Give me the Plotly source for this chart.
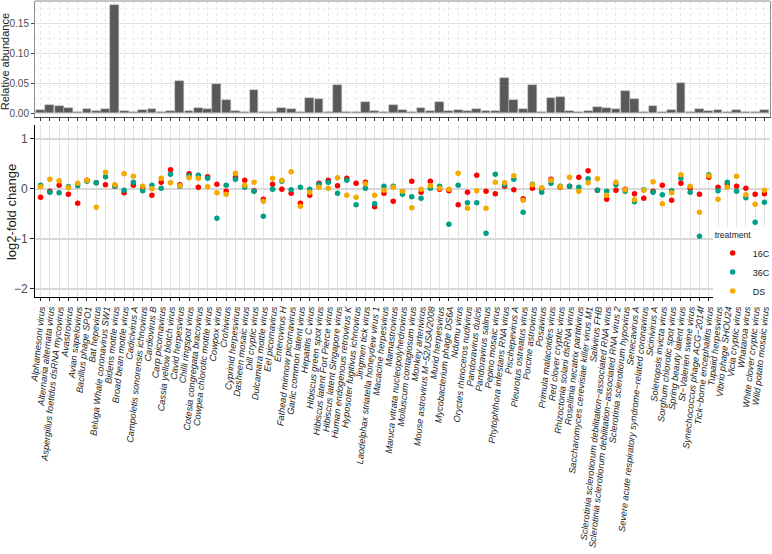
import plotly.graph_objects as go

viruses = [
    "Alphamesoni virus", "Alternaria alternata virus", "Aspergillus foetidus dsRNA mycovirus",
    "Avastrovirus", "Avian sapelovirus", "Bacillus phage SPO1", "Bat hepevirus",
    "Beluga Whale coronavirus SW1", "Bidens mottle virus", "Broad bean mottle virus",
    "Cadicivirus A", "Campoletis sonorensis ichnovirus", "Cardiovirus B", "Carp picornavirus",
    "Cassia yellow blotch virus", "Cavid herpesvirus", "Chilli ringspot virus",
    "Cotesia congregata bracovirus", "Cowpea chlorotic mottle virus", "Cowpox virus",
    "Crohivirus", "Cyprinid herpesvirus", "Dasheen mosaic virus", "Dill cryptic virus",
    "Dulcamara mottle virus", "Eel picornavirus", "Enterovirus H", "Fathead minnow picornavirus",
    "Garlic common latent virus", "Hepatitis C virus", "Hibiscus green spot virus",
    "Hibiscus latent Fort Pierce virus", "Hibiscus latent Singapore virus",
    "Human endogenous retrovirus K", "Hyposoter fugitivus ichnovirus", "Jingmen tick virus",
    "Laodelphax striatella honeydew virus 1", "Macacine herpesvirus", "Mamastrovirus",
    "Maruca vitrata nucleopolyhedrovirus", "Molluscum contagiosum virus", "Monkey arterivirus",
    "Mouse astrovirus M\u221252/USA/2008", "Murid herpesvirus", "Mycobacterium phage DS6A",
    "Ndumu virus", "Oryctes rhinoceros nudivirus", "Pandoravirus dulcis", "Pandoravirus salinus",
    "Pepino mosaic virus", "Phytophthora infestans RNA virus", "Piscihepevirus A",
    "Pleurotus ostreatus virus", "Porcine astrovirus", "Posavirus", "Primula malacoides virus",
    "Red clover cryptic virus", "Rhizoctonia solani dsRNA virus", "Rosellinia necatrix partitivirus",
    "Saccharomyces cerevisiae killer virus M1", "Salivirus FHB",
    "Sclerotinia sclerotiorum debilitation\u2212associated RNA virus",
    "Sclerotinia sclerotiorum debilitation\u2212associated RNA virus 2",
    "Sclerotinia sclerotiorum hypovirus", "Senecavirus A",
    "Severe acute respiratory syndrome\u2212related coronavirus", "Sicinivirus A",
    "Solenopsis invicta virus", "Sorghum chlorotic spot virus", "Spring beauty latent virus",
    "St\u2212Valerien swine virus", "Synechococcus phage ACG\u22122014f",
    "Tick\u2212borne encephalitis virus", "Tupaiid herpesvirus", "Vibrio phage SHOU24",
    "Vicia cryptic virus", "Whataroa virus", "White clover cryptic virus", "Wild potato mosaic virus",
]

abundance = [
    0.005, 0.013, 0.012, 0.008, 0.002, 0.006, 0.003, 0.007, 0.180, 0.004,
    0.002, 0.005, 0.007, 0.001, 0.004, 0.054, 0.003, 0.008, 0.007, 0.049,
    0.022, 0.004, 0.001, 0.038, 0.002, 0.002, 0.008, 0.007, 0.002, 0.025,
    0.024, 0.001, 0.047, 0.001, 0.001, 0.018, 0.003, 0.002, 0.014, 0.005,
    0.002, 0.008, 0.003, 0.018, 0.004, 0.005, 0.003, 0.006, 0.004, 0.003,
    0.059, 0.022, 0.007, 0.047, 0.002, 0.025, 0.027, 0.004, 0.001, 0.003,
    0.010, 0.009, 0.007, 0.036, 0.023, 0.002, 0.012, 0.002, 0.005, 0.051,
    0.002, 0.007, 0.004, 0.005, 0.002, 0.005, 0.002, 0.002, 0.005,
]

lfc_16C = [
    -0.17, -0.05, 0.07, -0.11, -0.29, 0.17, 0.12, 0.08, 0.05, -0.08,
    0.07, 0.03, -0.13, 0.13, 0.38, 0.08, 0.30, 0.03, 0.24, 0.09,
    -0.05, 0.23, 0.17, -0.04, -0.21, 0.09, -0.01, -0.09, -0.29, -0.13,
    0.11, 0.17, 0.06, 0.21, 0.11, 0.13, -0.36, -0.09, -0.25, -0.06,
    0.15, -0.07, 0.15, -0.01, -0.04, -0.32, -0.07, 0.27, -0.05, -0.10,
    0.05, -0.02, -0.20, 0.01, -0.01, 0.19, 0.03, 0.05, 0.23, 0.36,
    -0.03, -0.21, -0.03, -0.01, -0.10, -0.19, -0.05, 0.07, -0.23, 0.11,
    0.01, -0.11, 0.23, 0.03, 0.09, 0.05, 0.01, -0.11, -0.10,
]

lfc_36C = [
    0.07, -0.07, -0.08, 0.04, 0.06, 0.15, 0.12, 0.24, 0.05, -0.03,
    0.13, -0.04, 0.07, 0.01, 0.29, 0.05, 0.26, 0.27, 0.21, -0.59,
    0.07, 0.19, 0.03, -0.05, -0.55, -0.01, 0.15, -0.02, 0.03, -0.01,
    0.09, 0.13, -0.09, 0.17, -0.32, 0.01, -0.30, 0.05, 0.05, -0.11,
    -0.16, -0.19, 0.01, 0.05, -0.71, 0.07, -0.28, -0.28, -0.89, 0.29,
    0.08, 0.19, -0.47, 0.09, -0.07, 0.11, 0.05, 0.05, 0.03, 0.20,
    -0.03, -0.05, 0.08, -0.05, -0.26, -0.02, -0.07, -0.12, -0.04, 0.21,
    -0.07, -0.95, 0.28, -0.04, 0.13, -0.05, -0.18, -0.67, -0.27,
]

lfc_DS = [
    0.04, 0.19, 0.16, 0.02, 0.11, 0.17, -0.37, 0.33, 0.08, 0.30,
    0.25, 0.05, 0.00, 0.21, 0.12, 0.06, 0.22, 0.21, 0.04, -0.08,
    -0.11, 0.31, 0.07, 0.13, -0.25, 0.21, 0.17, 0.34, -0.35, -0.07,
    0.03, 0.01, 0.22, -0.13, -0.17, 0.10, -0.13, -0.03, 0.03, -0.05,
    -0.38, -0.01, 0.06, 0.01, -0.01, 0.31, -0.39, -0.04, -0.39, 0.13,
    0.12, 0.26, -0.23, 0.08, 0.02, 0.17, 0.04, 0.23, -0.05, 0.12,
    0.20, -0.13, 0.13, -0.02, -0.22, -0.03, 0.14, -0.30, -0.08, 0.28,
    0.05, -0.47, 0.26, -0.21, 0.03, 0.25, -0.12, -0.31, -0.03,
]

treatments = ["16C", "36C", "DS"]
colors = ["#FF0000", "#00A087", "#F5AA00"]

fig = go.Figure()
fig.add_trace(go.Bar(
    x=viruses, y=abundance, xaxis="x", yaxis="y", width=0.95,
    marker=dict(color="#595959", line=dict(color="#bdbdbd", width=0.5)),
    showlegend=False,
))
for name, vals, col in zip(treatments, [lfc_16C, lfc_36C, lfc_DS], colors):
    fig.add_trace(go.Scatter(
        x=viruses, y=vals, mode="markers", name=name, xaxis="x2", yaxis="y2",
        marker=dict(color=col, size=5.5),
    ))

font_fam = "Liberation Sans, Arial, sans-serif"
fig.update_layout(
    width=772, height=554,
    margin=dict(l=35, r=2, t=1, b=257, autoexpand=False),
    paper_bgcolor="white", plot_bgcolor="white",
    font=dict(family=font_fam, color="#1a1a1a"),
    bargap=0,
    xaxis=dict(
        domain=[0, 1], anchor="y", type="category", range=[-0.6, 78.6], automargin=False,
        tickmode="array", tickvals=viruses, showticklabels=False,
        ticks="outside", ticklen=3, tickcolor="#333333",
        showgrid=True, gridcolor="#e6e6e6", griddash="dot", gridwidth=1,
        showline=True, linecolor="#444444", linewidth=1,
    ),
    yaxis=dict(
        domain=[0.608, 1], anchor="x", range=[-0.0067, 0.1873], automargin=False,
        tickmode="array", tickvals=[0, 0.05, 0.10, 0.15],
        ticktext=["0.00", "0.05", "0.10", "0.15"],
        tickfont=dict(size=10, color="#4d4d4d"),
        ticks="outside", ticklen=3, tickcolor="#444444",
        showgrid=True, gridcolor="#e2e2e2", gridwidth=1,
        minor=dict(tickvals=[0.025, 0.075, 0.125, 0.175], showgrid=True,
                   gridcolor="#eeeeee", griddash="dot", ticks=""),
        zeroline=False, showline=True, linecolor="#8c8c8c", mirror=True,
    ),
    xaxis2=dict(
        domain=[0, 1], anchor="y2", type="category", range=[-0.6, 78.6], automargin=False,
        tickmode="array", tickvals=viruses, ticktext=viruses,
        tickangle=-84,
        tickfont=dict(size=9.2, style="italic", color="#1a1a1a", family=font_fam),
        ticks="outside", ticklen=3, tickcolor="#222222", ticklabelstandoff=-1,
        showgrid=True, gridcolor="#e3e3e3", gridwidth=1,
        showline=True, linecolor="#000000", linewidth=1,
    ),
    yaxis2=dict(
        domain=[0, 0.581], anchor="x2", range=[-2.167, 1.273], automargin=False,
        tickmode="array", tickvals=[-2, -1, 0, 1],
        tickfont=dict(size=12, color="#4d4d4d"),
        ticks="outside", ticklen=4, tickcolor="#222222",
        showgrid=True, gridcolor="#d9d9d9", gridwidth=1.5,
        zeroline=False, showline=True, linecolor="#000000", linewidth=1,
    ),
    legend=dict(
        x=0.922, xanchor="left", y=0.235, yanchor="top",
        bgcolor="white", font=dict(size=9, color="#1a1a1a"),
        title=dict(text="treatment", font=dict(size=8.5, color="#1a1a1a")),
        tracegroupgap=0, itemwidth=30,
    ),
    shapes=[dict(type="line", xref="x domain", yref="y domain", x0=0, x1=1, y0=1, y1=1,
                 line=dict(color="#8c8c8c", width=1))],
    annotations=[
        dict(text="Relative abundance", xref="paper", yref="paper", x=-0.0405, y=0.794,
             xanchor="center", yanchor="middle", textangle=-90, showarrow=False,
             font=dict(size=11, color="#1a1a1a")),
        dict(text="log2-fold change", xref="paper", yref="paper", x=-0.0327, y=0.287,
             xanchor="center", yanchor="middle", textangle=-90, showarrow=False,
             font=dict(size=13, color="#1a1a1a")),
    ],
)

fig.write_html("out.html", config={"displayModeBar": False},
               post_script="document.body.style.margin='0px';")
